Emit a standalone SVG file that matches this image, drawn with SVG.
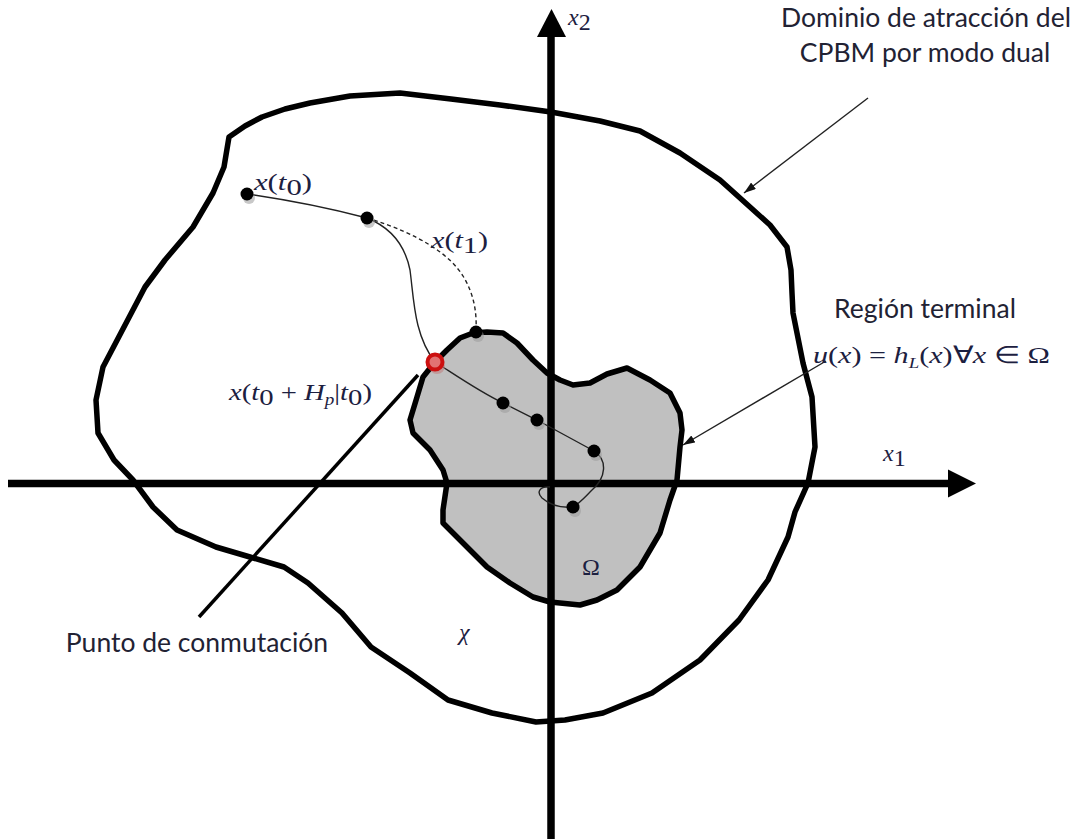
<svg xmlns="http://www.w3.org/2000/svg" width="1076" height="839" viewBox="0 0 1076 839">
<style>
.lbl{font-family:Lato,"Liberation Sans",sans-serif;font-size:26.5px;fill:#222233}
.m{font-family:"Liberation Serif",serif;font-style:italic;font-size:24px;fill:#1c2040}
.mu{font-family:"Liberation Serif",serif;font-style:normal;font-size:24px;fill:#1c2040}
.bnd{fill:none;stroke:#000;stroke-width:5.5;stroke-linejoin:round}
.axis{stroke:#000;stroke-width:7.5}
.thin{stroke:#222;stroke-width:1.4;fill:none}
.dot{fill:#000}
.sh{fill:#9a9a9a;opacity:0.55}
</style>
<defs>
<marker id="ah" viewBox="0 0 12 8" refX="12" refY="4" markerWidth="12" markerHeight="8" markerUnits="userSpaceOnUse" orient="auto">
<path d="M0,0 L12,4 L0,8 Z" fill="#111"/>
</marker>
</defs>

<g id="terminal-region">
<path d="M435,362 L447,350 L460,338 L473,333 L487,332 L503,333 L517,343 L533,360 L547,373 L560,380 L573,385 L590,383 L607,374 L627,368 L650,380 L670,393 L680,413 L682,430 L680,447 L677,480 L670,500 L660,533 L640,567 L617,590 L597,600 L580,605 L550,602 L533,597 L510,583 L487,567 L467,547 L450,530 L443,523 L443,510 L447,483 L443,470 L430,450 L413,433 L410,420 L417,397 L423,377 Z" fill="#c0c0c0"/>
</g>

<g id="axes">
<line class="axis" x1="551" y1="839" x2="551" y2="36"/>
<polygon points="537,37 566,37 551.5,9" fill="#000"/>
<line class="axis" x1="8" y1="483.5" x2="949" y2="483.5"/>
<polygon points="948,469.5 948,497.5 976,483.5" fill="#000"/>
</g>

<g id="attraction-domain">
<path class="bnd" d="M229,137 L245,126 L262,117 L285,109 L310,103 L350,96 L400,93 L451,99 L500,105 L551,112 L600,121 L640,131 L680,153 L720,180 L750,207 L770,225 L787,247 L791,270 L792,293 L793,313 L803,363 L812,397 L815,447 L808,483 L795,512 L788,537 L768,580 L739,620 L700,660 L652,693 L603,713 L565,720 L536,722 L492,713 L448,700 L410,673 L371,647 L342,613 L308,583 L284,567 L250,557 L216,547 L177,530 L153,507 L133,480 L114,460 L98,433 L96,400 L103,367 L124,327 L145,287 L165,260 L193,227 L213,193 L224,167 Z"/>
</g>

<g id="terminal-boundary">
<path class="bnd" d="M435,362 L447,350 L460,338 L473,333 L487,332 L503,333 L517,343 L533,360 L547,373 L560,380 L573,385 L590,383 L607,374 L627,368 L650,380 L670,393 L680,413 L682,430 L680,447 L677,480 L670,500 L660,533 L640,567 L617,590 L597,600 L580,605 L550,602 L533,597 L510,583 L487,567 L467,547 L450,530 L443,523 L443,510 L447,483 L443,470 L430,450 L413,433 L410,420 L417,397 L423,377 Z"/>
</g>

<g id="connectors">
<path class="thin" d="M247,194 Q310,203 367,218 C392,228 405,245 410,270 C414,300 414,335 435,362 C460,378 480,392 503,403 L537,420 L594,451 C608,460 606,478 592,490 C585,497 580,503 573,507 C562,508 550,505 542,498 C536,492 540,486 550,487"/>
<path class="thin" stroke-dasharray="4,3" d="M367,218 C420,234 450,255 463,276 C474,294 477,312 476,332"/>
<line class="thin" x1="868" y1="98" x2="744" y2="193" marker-end="url(#ah)"/>
<line class="thin" x1="826" y1="361" x2="683" y2="445" marker-end="url(#ah)"/>
<line x1="199" y1="617" x2="418" y2="375" stroke="#000" stroke-width="3.5"/>
</g>

<g id="trajectory-points">
<circle class="sh" cx="249" cy="198" r="6"/><circle class="dot" cx="247" cy="194" r="6.5"/>
<circle class="sh" cx="369" cy="222" r="6"/><circle class="dot" cx="367" cy="218" r="6.5"/>
<circle class="sh" cx="478" cy="336" r="6"/><circle class="dot" cx="476" cy="332" r="6.5"/>
<circle class="sh" cx="505" cy="407" r="6"/><circle class="dot" cx="503" cy="403" r="6.5"/>
<circle class="sh" cx="539" cy="424" r="6"/><circle class="dot" cx="537" cy="420" r="6.5"/>
<circle class="sh" cx="596" cy="455" r="6"/><circle class="dot" cx="594" cy="451" r="6.5"/>
<circle class="sh" cx="575" cy="511" r="6"/><circle class="dot" cx="573" cy="507" r="6.5"/>
</g>

<g id="switch-point">
<circle cx="437" cy="366" r="8" fill="#c08080" opacity="0.6"/>
<circle cx="435" cy="362" r="7.5" fill="#e27272" stroke="#cc1010" stroke-width="4"/>
</g>

<g id="labels">
<text class="lbl" x="926" y="27" text-anchor="middle">Dominio de atracción del</text>
<text class="lbl" x="925" y="62" text-anchor="middle">CPBM por modo dual</text>
<text class="lbl" x="925" y="318" text-anchor="middle">Región terminal</text>
<text class="lbl" x="197" y="652" text-anchor="middle">Punto de conmutación</text>
<text class="m" x="813" y="363" textLength="237" lengthAdjust="spacingAndGlyphs">u<tspan class="mu">(</tspan>x<tspan class="mu">) = </tspan>h<tspan font-size="15" dy="5">L</tspan><tspan class="mu" dy="-5">(</tspan>x<tspan class="mu">)∀</tspan>x<tspan class="mu"> ∈ Ω</tspan></text>
<text class="m" x="254" y="190" textLength="58" lengthAdjust="spacingAndGlyphs">x<tspan class="mu">(</tspan>t<tspan class="mu" font-size="16" dy="5">0</tspan><tspan class="mu" dy="-5">)</tspan></text>
<text class="m" x="431" y="248" textLength="57" lengthAdjust="spacingAndGlyphs">x<tspan class="mu">(</tspan>t<tspan class="mu" font-size="16" dy="5">1</tspan><tspan class="mu" dy="-5">)</tspan></text>
<text class="m" x="229" y="400" textLength="143" lengthAdjust="spacingAndGlyphs">x<tspan class="mu">(</tspan>t<tspan class="mu" font-size="16" dy="5">0</tspan><tspan class="mu" dy="-5"> + </tspan>H<tspan font-size="16" dy="5">p</tspan><tspan class="mu" dy="-5">|</tspan>t<tspan class="mu" font-size="16" dy="5">0</tspan><tspan class="mu" dy="-5">)</tspan></text>
<text class="m" x="568" y="25" font-size="20">x<tspan class="mu" font-size="14" dy="5">2</tspan></text>
<text class="m" x="883" y="461" font-size="20">x<tspan class="mu" font-size="14" dy="5">1</tspan></text>
<text class="mu" x="582" y="575" font-size="20">Ω</text>
<text class="m" x="459" y="640" font-size="20">χ</text>
</g>
</svg>
